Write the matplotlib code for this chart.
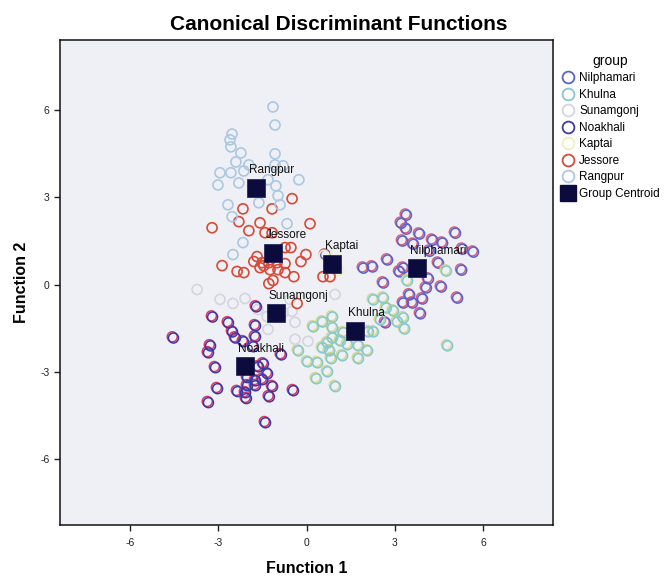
import matplotlib
matplotlib.use("Agg")
import matplotlib.pyplot as plt
from matplotlib.transforms import offset_copy
from matplotlib.lines import Line2D

plt.rcParams["font.family"] = ["Liberation Sans", "DejaVu Sans"]

# ---- discriminant scores per group (Function 1, Function 2) ----
nilphamari_x = [3.38, 3.21, 3.38, 3.83, 5.05, 3.25, 3.62, 4.27, 4.61, 4.17, 5.29, 5.66,
                2.74, 3.28, 3.15, 4.47, 5.26, 4.13, 2.60, 4.57, 4.06, 3.49, 3.93, 5.12,
                3.28, 3.59, 2.23, 1.92, 3.86, 2.67, 0.63]
nilphamari_y = [2.40, 2.12, 1.92, 1.75, 1.78, 1.51, 1.40, 1.54, 1.44, 1.16, 1.23, 1.13,
                0.86, 0.58, 0.45, 0.75, 0.51, 0.21, 0.07, -0.07, -0.10, -0.34, -0.48, -0.45,
                -0.62, -0.62, 0.62, 0.58, -0.99, -1.30, 1.03]

khulna_x = [2.26, 2.60, 2.70, 2.94, 3.08, 3.28, 3.32, 2.50, 2.09, 2.26, 0.87, 0.53,
            0.22, 0.87, 1.24, 0.70, 0.87, 1.14, 1.38, 0.53, 0.77, 1.75, 2.06, -0.29,
            1.21, 0.83, 1.75, 0.02, 0.36, 0.70, 0.32, 0.97, 4.78, 3.42, 4.74]
khulna_y = [-0.51, -0.45, -0.79, -0.89, -1.27, -1.13, -1.51, -1.20, -1.61, -1.61, -1.10, -1.27,
            -1.44, -1.47, -1.64, -1.99, -1.82, -1.92, -2.05, -2.16, -2.26, -2.09, -2.26, -2.26,
            -2.43, -2.53, -2.53, -2.64, -2.67, -2.98, -3.22, -3.49, -2.09, 0.14, 0.48]

sunamgonj_x = [-3.72, -2.94, -2.50, -2.09, -1.65, -1.34, -0.80, -0.49, -0.39, -1.31,
               -0.39, 0.05, 0.97, -0.56]
sunamgonj_y = [-0.17, -0.51, -0.65, -0.48, -0.86, -1.10, -0.96, -0.92, -1.30, -1.54,
               -1.88, -1.95, -0.34, -0.51]

noakhali_x = [-3.21, -2.67, -1.72, -1.75, -2.53, -2.43, -2.16, -1.75, -4.54, -3.28, -3.35,
              -1.82, -3.11, -1.65, -1.48, -1.34, -2.02, -1.75, -1.51, -2.02, -1.75, -1.17,
              -3.04, -2.36, -2.09, -2.06, -1.28, -0.46, -3.35, -1.41, -0.87]
noakhali_y = [-1.10, -1.30, -0.75, -1.40, -1.61, -1.82, -1.95, -1.78, -1.82, -2.09, -2.33,
              -2.12, -2.84, -2.81, -2.71, -3.05, -3.18, -3.29, -3.25, -3.46, -3.46, -3.49,
              -3.56, -3.66, -3.70, -3.90, -3.84, -3.63, -4.04, -4.73, -2.40]

kaptai_x = [0.60, 1.10, 0.80, 1.00]
kaptai_y = [1.00, 0.50, 0.30, 1.10]

jessore_x = [-3.21, -2.30, -1.96, -1.58, -1.41, -1.17, 0.12, -0.49, -2.16, -1.17, -1.68,
             -1.79, -1.51, -1.28, -1.00, -0.73, -0.73, -0.53, -0.02, -0.19, -2.87, -2.36,
             -2.13, -1.58, -1.24, -0.97, -0.73, -0.43, -1.14, -1.28, 0.56, 0.80, -0.32, -1.45]
jessore_y = [1.95, 2.16, 1.85, 2.12, 1.78, 1.78, 2.09, 2.95, 2.60, 2.60, 0.96,
             0.79, 0.75, 0.75, 0.75, 0.72, 1.27, 1.27, 1.03, 0.79, 0.65, 0.45,
             0.41, 0.58, 0.51, 0.51, 0.41, 0.27, 0.14, 0.03, 0.27, 0.27, -0.65, 0.65]

rangpur_x = [-1.14, -1.07, -2.53, -2.60, -2.57, -2.23, -1.07, -2.40, -1.96, -1.07, -0.80,
             -2.94, -2.57, -2.13, -3.01, -2.30, -1.31, -1.04, -0.26, -0.97, -2.67, -1.62,
             -0.90, -2.53, -0.66, -2.16, -2.50]
rangpur_y = [6.10, 5.48, 5.17, 4.97, 4.73, 4.52, 4.49, 4.21, 4.11, 4.11, 4.08,
             3.84, 3.84, 3.90, 3.42, 3.49, 3.60, 3.39, 3.60, 3.05, 2.74, 2.81,
             2.74, 2.33, 2.09, 1.44, 1.03]

# ---- group centroids ----
centroid_names = ["Rangpur", "Jessore", "Kaptai", "Nilphamari", "Sunamgonj", "Khulna", "Noakhali"]
centroid_x = [-1.72, -1.14, 0.87, 3.76, -1.04, 1.65, -2.09]
centroid_y = [3.33, 1.10, 0.72, 0.58, -0.99, -1.58, -2.81]

ticks = [-6, -3, 0, 3, 6]

# group name, x, y, main edge colour, fringe colour (or None)
groups = [
    ("Nilphamari", nilphamari_x, nilphamari_y, "#5a62d0", "#d8607a"),
    ("Khulna", khulna_x, khulna_y, "#86c8cc", "#cfd88e"),
    ("Sunamgonj", sunamgonj_x, sunamgonj_y, "#d4d6de", None),
    ("Noakhali", noakhali_x, noakhali_y, "#3a3aa8", "#d8386a"),
    ("Kaptai", kaptai_x, kaptai_y, "#eeeec4", None),
    ("Jessore", jessore_x, jessore_y, "#d84a36", None),
    ("Rangpur", rangpur_x, rangpur_y, "#abc8e0", None),
]

fig = plt.figure(figsize=(6.66, 5.79), dpi=100)
ax = fig.add_axes([60 / 666, 54 / 579, 493 / 666, 485 / 579])
ax.set_facecolor("#eef0f6")

ms = 52
for name, gx, gy, col, fringe in groups:
    if fringe is not None:
        tr_f = offset_copy(ax.transData, fig=fig, x=-0.7, y=0.7, units="dots")
        ax.scatter(gx, gy, s=ms, facecolors="none", edgecolors=fringe,
                   linewidths=1.1, transform=tr_f, zorder=2)
        tr_m = offset_copy(ax.transData, fig=fig, x=0.5, y=-0.5, units="dots")
        ax.scatter(gx, gy, s=ms, facecolors="none", edgecolors=col,
                   linewidths=1.1, transform=tr_m, zorder=2)
    else:
        ax.scatter(gx, gy, s=ms, facecolors="none", edgecolors=col,
                   linewidths=1.2, zorder=2)

ax.scatter(centroid_x, centroid_y, s=185, marker="s", color="#0b0b3e",
           edgecolors="#1a1a50", linewidths=0.5, zorder=4)
for name, cx, cy in zip(centroid_names, centroid_x, centroid_y):
    ax.annotate(name, (cx, cy), xytext=(-5, 8), textcoords="offset points",
                fontsize=8.5, color="#111111", ha="left", va="bottom", zorder=5)

ax.set_xlim(-8.38, 8.38)
ax.set_ylim(-8.26, 8.40)
ax.set_xticks(ticks)
ax.set_yticks(ticks)
ax.set_xticklabels([str(t) for t in ticks])
ax.set_yticklabels([str(t) for t in ticks])
ax.tick_params(axis="both", direction="out", length=4.5, width=1, labelsize=7.5,
               colors="#222222")
ax.tick_params(axis="x", pad=5)
ax.tick_params(axis="y", pad=3)
for sp in ax.spines.values():
    sp.set_linewidth(1.1)
    sp.set_color("#111111")

ax.set_xlabel("Function 1", fontsize=11.5, fontweight="bold", labelpad=9)
ax.set_ylabel("Function 2", fontsize=11.5, fontweight="bold", labelpad=8)
fig.text(0.508, 1 - 25 / 579, "Canonical Discriminant Functions", ha="center",
         va="center", fontsize=15, fontweight="bold")

handles = [Line2D([], [], linestyle="none", marker="o", markersize=8.5,
                  markerfacecolor="none", markeredgecolor=col, markeredgewidth=1.3)
           for _, _, _, col, _ in groups]
handles.append(Line2D([], [], linestyle="none", marker="s", markersize=11,
                      color="#0b0b3e"))
labels = [g[0] for g in groups] + ["Group Centroid"]
leg = fig.legend(handles, labels, loc="upper left",
                 bbox_to_anchor=(561 / 666, 1 - 54 / 579), frameon=False,
                 fontsize=8.5, title="group", title_fontsize=10,
                 labelspacing=0.38, handletextpad=0.35, handlelength=1.2,
                 borderpad=0, borderaxespad=0)

fig.savefig("out.png", dpi=100)
